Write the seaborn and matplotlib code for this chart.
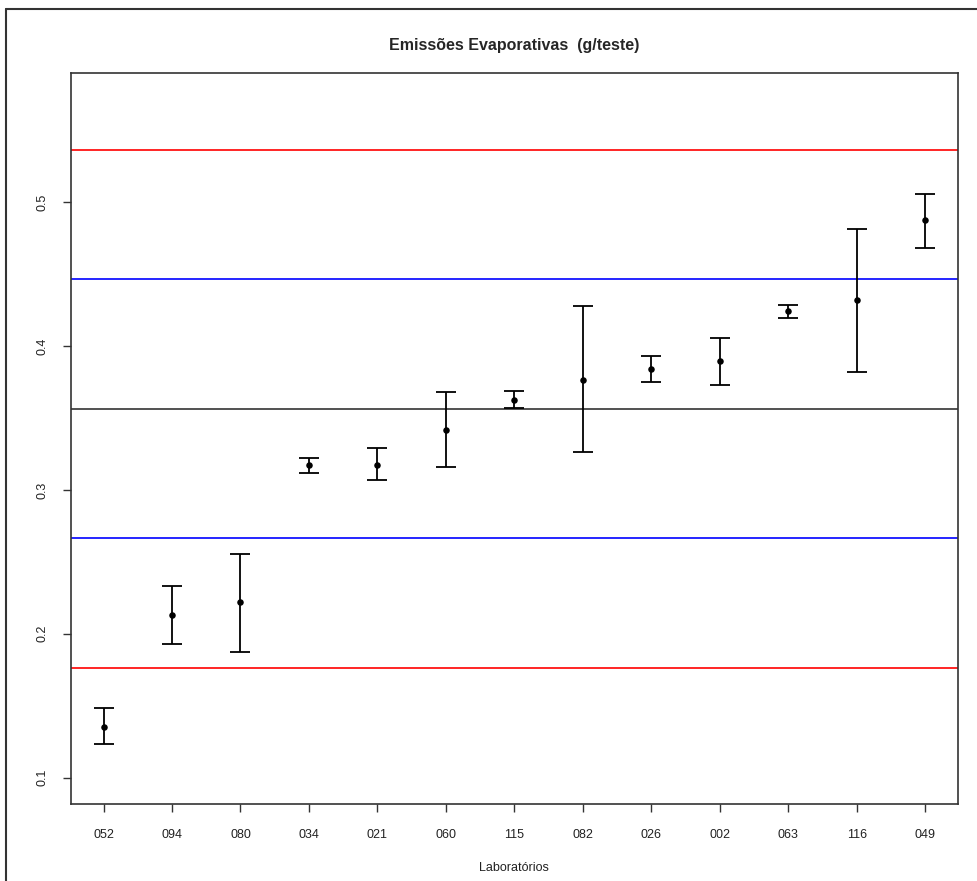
import numpy as np
import pandas as pd
import matplotlib
matplotlib.use("Agg")
import matplotlib.pyplot as plt
import seaborn as sns
from matplotlib.lines import Line2D

# dados
labs = ["052", "094", "080", "034", "021", "060", "115",
        "082", "026", "002", "063", "116", "049"]
media = [0.1353, 0.2130, 0.2218, 0.3172, 0.3172, 0.3416, 0.3626,
         0.3765, 0.3842, 0.3895, 0.4243, 0.4319, 0.4875]
inferior = [0.1233, 0.1926, 0.1873, 0.3120, 0.3066, 0.3156, 0.3566,
            0.3260, 0.3751, 0.3726, 0.4198, 0.3819, 0.4684]
superior = [0.1483, 0.2329, 0.2551, 0.3219, 0.3288, 0.3682, 0.3689,
            0.4281, 0.3932, 0.4059, 0.4288, 0.4814, 0.5060]

linhas_ref = [0.1759, 0.2662, 0.3561, 0.4465, 0.5366]
cores_ref = ["#ff0000", "#0000ff", "#333333", "#0000ff", "#ff0000"]

yticks = [0.1, 0.2, 0.3, 0.4, 0.5]

sns.set_style("white")
plt.rcParams["font.family"] = ["Liberation Sans", "DejaVu Sans"]

df = pd.DataFrame({"lab": labs, "media": media,
                   "inf": inferior, "sup": superior})
df["pos"] = np.arange(len(df))

fig = plt.figure(figsize=(9.77, 8.81), dpi=100)
ax = fig.add_axes([0.0723, 0.0874, 0.9083, 0.8303])

for yv, c in zip(linhas_ref, cores_ref):
    ax.axhline(yv, color=c, lw=1.2, zorder=1)

ax.errorbar(df["pos"], df["media"],
            yerr=[df["media"] - df["inf"], df["sup"] - df["media"]],
            fmt="none", ecolor="black", elinewidth=1.3,
            capsize=7.4, capthick=1.3, zorder=2)

sns.scatterplot(data=df, x="pos", y="media", color="black", s=22,
                edgecolor="black", linewidth=0, ax=ax, zorder=3)

ax.set_xlim(-0.48, len(labs) - 1 + 0.48)
ax.set_ylim(0.0816, 0.5902)
ax.set_xticks(df["pos"])
ax.set_xticklabels(labs)
ax.set_yticks(yticks)
ax.set_yticklabels([f"{v:.1f}" for v in yticks], rotation=90, va="center")

ax.tick_params(axis="both", direction="out", length=6, width=1,
               color="#333333", labelsize=9, labelcolor="#222222",
               left=True, bottom=True)
ax.tick_params(axis="x", pad=12)
ax.tick_params(axis="y", pad=10)

for sp in ax.spines.values():
    sp.set_color("#333333")
    sp.set_linewidth(1.2)

ax.set_xlabel("Laboratórios", fontsize=9, color="#222222", labelpad=15)
ax.set_ylabel("")
ax.set_title("Emissões Evaporativas  (g/teste)", fontsize=11.5,
             fontweight="bold", pad=16)

# moldura externa (só lados esquerdo e superior visíveis)
W, H = 977, 881
fig.add_artist(Line2D([5.5 / W, 5.5 / W], [0, 1 - 9 / H],
                      transform=fig.transFigure, color="#333333", lw=1.5))
fig.add_artist(Line2D([5.5 / W, 1], [1 - 9 / H, 1 - 9 / H],
                      transform=fig.transFigure, color="#333333", lw=1.5))

fig.savefig("out.png", dpi=100)
